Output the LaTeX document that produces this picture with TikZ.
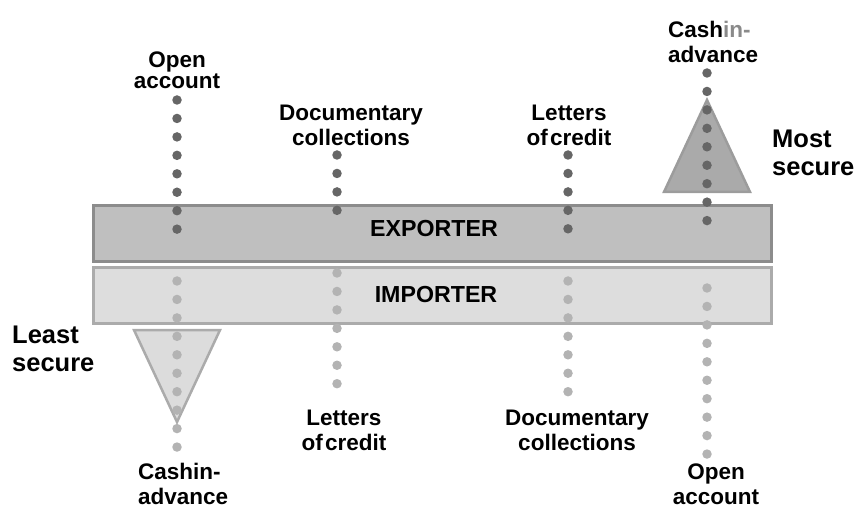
\documentclass[tikz,border=0pt]{standalone}
\usepackage{fontspec}
\setmainfont{Liberation Sans}
\begin{document}
\begin{tikzpicture}[x=1pt,y=-1pt,
  lbl/.style={font=\fontsize{22.5}{25}\bfseries\selectfont, align=center, inner sep=0pt},
  lbltight/.style={font=\fontsize{22.5}{21}\bfseries\selectfont, align=center, inner sep=0pt},
  big/.style={font=\fontsize{25.5}{28}\bfseries\selectfont, align=left, inner sep=0pt},
  boxlbl/.style={font=\fontsize{23.2}{25}\bfseries\selectfont, inner sep=0pt},
  darkdots/.style={draw=dotdark, line width=9.5pt, line cap=round, dash pattern=on 0pt off 18.45pt},
  lightdots/.style={draw=dotlight, line width=9.5pt, line cap=round, dash pattern=on 0pt off 18.45pt}
]
\definecolor{dotdark}{HTML}{666666}
\definecolor{dotlight}{HTML}{B3B3B3}
\definecolor{expfill}{HTML}{BFBFBF}
\definecolor{expline}{HTML}{8C8C8C}
\definecolor{impfill}{HTML}{DDDDDD}
\definecolor{impline}{HTML}{ABABAB}
\definecolor{trifill}{HTML}{AAAAAA}
\definecolor{triline}{HTML}{9C9C9C}
\definecolor{tri2fill}{HTML}{DCDCDC}
\definecolor{inadv}{HTML}{8A8A8A}
\useasboundingbox (0,0) rectangle (861,510);
% boxes
\draw[fill=expfill, draw=expline, line width=3pt] (93,206) rectangle (771,262);
\draw[fill=impfill, draw=impline, line width=3pt] (93,268) rectangle (771,323);
\node[boxlbl] (exp) at (434,229) {EXPORTER};
\node[boxlbl] (imp) at (436,295) {IMPORTER};
% triangles
\draw[fill=trifill, draw=triline, line width=2.5pt, line join=miter] (707,100) -- (750,192) -- (664,192) -- cycle;
\draw[fill=tri2fill, draw=impline, line width=2.5pt, line join=miter] (134,330) -- (220,330) -- (177,422) -- cycle;
% dot columns
\coordinate (a1) at (177,100); \coordinate (a2) at (177,229.2);
\coordinate (b1) at (337,155); \coordinate (b2) at (337,210.4);
\coordinate (c1) at (568,155); \coordinate (c2) at (568,228.8);
\coordinate (d1) at (707,73);  \coordinate (d2) at (707,220.6);
\coordinate (e1) at (177,281); \coordinate (e2) at (177,447.1);
\coordinate (f1) at (337,273); \coordinate (f2) at (337,383.7);
\coordinate (g1) at (568,281); \coordinate (g2) at (568,391.7);
\coordinate (h1) at (707,288); \coordinate (h2) at (707,454.1);
\draw[darkdots] (a1) -- (a2);
\draw[darkdots] (b1) -- (b2);
\draw[darkdots] (c1) -- (c2);
\draw[darkdots] (d1) -- (d2);
\draw[lightdots] (e1) -- (e2);
\draw[lightdots] (f1) -- (f2);
\draw[lightdots] (g1) -- (g2);
\draw[lightdots] (h1) -- (h2);
% labels top
\node[lbltight] (oa1) at (177,70) {Open\\account};
\node[lbl] (dc1) at (351,125) {Documentary\\collections};
\node[lbl] (lc1) at (569,125) {Letters\\of\hspace{0.1em}credit};
\node[lbl, align=left, anchor=west] (ca1) at (668,42) {Cash\textcolor{inadv}{in-}\\advance};
\node[big, anchor=west] (ms) at (772,153) {Most\\secure};
\node[big, anchor=west] (ls) at (12,349) {Least\\secure};
% labels bottom
\node[lbl] (lc2) at (344,430) {Letters\\of\hspace{0.1em}credit};
\node[lbl] (dc2) at (577,430) {Documentary\\collections};
\node[lbl] (oa2) at (716,484) {Open\\account};
\node[lbl, align=left, anchor=west] (ca2) at (138,484) {Cashin-\\advance};
\end{tikzpicture}
\end{document}
